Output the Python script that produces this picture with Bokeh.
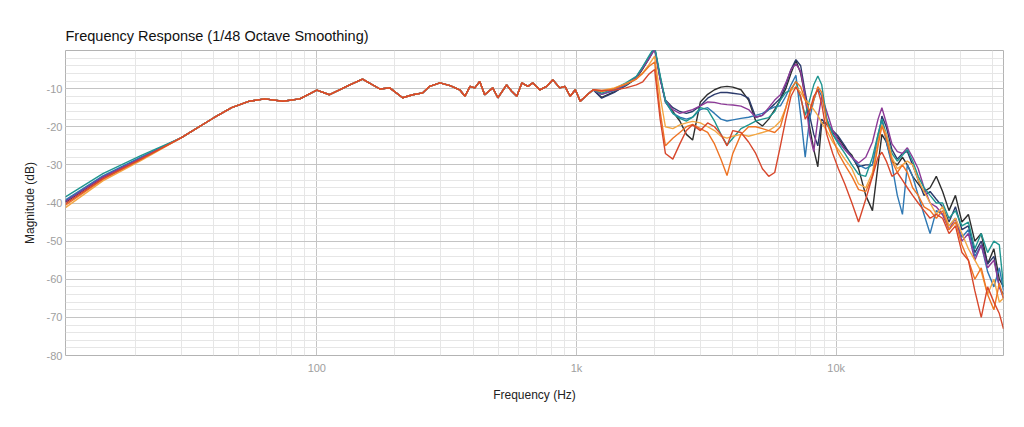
from bokeh.plotting import figure
from bokeh.models import Range1d, FixedTicker, CustomJSTickFormatter
from bokeh.embed import file_html
from bokeh.resources import INLINE

# ---------------------------------------------------------------
# data (dB vs Hz)
# ---------------------------------------------------------------
start_freqs = [10.77, 15, 21]

# below ~1.2 kHz all the measurements sit on top of each other
shared_freqs = [30, 40, 47, 55, 63, 74, 86, 100, 112, 134,
                150, 175, 191, 214, 234, 256, 272, 298, 326, 355,
                372, 389, 406, 424, 443, 476, 498, 538, 563, 589,
                616, 650, 679, 722, 768, 811, 862, 903, 945, 990,
                1034, 1100, 1160]
shared_db = [-22.9, -17.7, -15.0, -13.3, -12.7, -13.3, -12.7, -10.4, -11.6, -9.0,
             -7.5, -10.1, -9.8, -12.4, -11.6, -11.1, -9.4, -8.5, -9.2, -10.3,
             -12.0, -9.4, -9.8, -8.1, -11.6, -9.8, -12.4, -9.0, -10.7, -12.0,
             -8.5, -9.4, -8.5, -10.3, -9.4, -7.7, -9.8, -9.4, -12.0, -10.3,
             -13.3, -11.6, -10.3]

high_freqs = [1250, 1400, 1550, 1700, 1800,
              1900, 2000, 2100, 2200, 2350,
              2500, 2650, 2800, 3000, 3200,
              3400, 3600, 3800, 4000, 4300,
              4600, 4900, 5200, 5500, 5800,
              6100, 6400, 6700, 7000, 7300,
              7600, 7900, 8200, 8500, 8800,
              9200, 9700, 10200, 10800, 11500,
              12200, 13000, 13800, 14500, 15000,
              15600, 16400, 17200, 18000, 18800,
              19700, 20700, 21800, 23000, 24300,
              25700, 27200, 28800, 30500, 32300,
              34200, 36200, 38300, 40500, 42500,
              44100]

black_low = [-39.8, -33.3, -28.3]
black_high = [-12.3, -10.8, -9.2, -7.3, -4.8,
              -2.2, 0.5, -7.0, -13.5, -16.0,
              -18.5, -22.0, -23.5, -13.5, -11.5,
              -10.3, -9.6, -9.4, -9.6, -10.3,
              -13.0, -18.5, -19.8, -18.0, -15.5,
              -12.9, -10.0, -6.0, -2.6, -6.0,
              -12.0, -20.0, -26.0, -30.5, -19.0,
              -19.0, -21.5, -23.0, -25.5, -27.5,
              -31.0, -38.0, -42.0, -30.0, -22.0,
              -24.0, -29.0, -30.0, -28.0, -30.0,
              -33.0, -35.0, -37.0, -36.0, -33.0,
              -37.0, -42.0, -38.0, -45.0, -43.0,
              -50.0, -48.0, -56.0, -52.0, -60.0,
              -62.0]

navy_low = [-39.5, -33.1, -28.2]
navy_high = [-12.5, -11.0, -9.0, -7.0, -4.5,
             -2.0, 0.8, -7.5, -13.0, -15.0,
             -16.0, -16.5, -16.0, -14.5, -12.5,
             -11.5, -11.0, -11.0, -11.2, -11.5,
             -12.5, -17.5, -17.0, -15.5, -14.0,
             -12.5, -9.0, -5.0, -2.4, -4.0,
             -11.0, -17.0, -22.0, -25.0, -18.0,
             -19.5, -21.0, -22.5, -25.0, -28.0,
             -30.5, -30.0, -30.0, -24.0, -17.2,
             -20.0, -26.0, -28.5, -27.0, -26.5,
             -30.0, -34.0, -38.0, -37.0, -39.0,
             -41.0, -45.0, -41.0, -47.0, -46.0,
             -53.0, -50.0, -56.0, -54.0, -62.0,
             -64.0]

blue_low = [-39.2, -32.9, -28.0]
blue_high = [-11.5, -10.5, -9.0, -7.0, -4.3,
             -1.8, 0.5, -7.0, -13.5, -16.5,
             -17.5, -18.0, -17.5, -15.5, -15.0,
             -16.5, -18.0, -18.5, -18.2, -17.8,
             -17.5, -17.0, -16.5, -15.5, -14.8,
             -14.5, -12.0, -9.0, -6.5, -17.0,
             -28.0, -18.0, -13.0, -10.0, -12.0,
             -18.0, -22.0, -24.0, -26.0, -28.0,
             -30.0, -31.0, -30.0, -22.0, -18.0,
             -24.0, -30.0, -38.0, -43.0, -30.0,
             -33.0, -38.0, -43.0, -48.0, -42.0,
             -43.0, -46.0, -44.0, -49.0, -47.0,
             -54.0, -51.0, -58.0, -62.0, -57.0,
             -63.0]

purple_low = [-39.6, -33.2, -28.3]
purple_high = [-11.5, -10.3, -8.8, -7.0, -4.6,
               -2.2, 0.3, -7.5, -13.0, -15.5,
               -16.5, -16.0, -15.5, -14.5, -13.5,
               -13.6, -14.0, -14.2, -14.3, -14.6,
               -15.5, -17.5, -17.0, -15.0, -13.0,
               -11.6, -8.5, -5.0, -3.5, -5.5,
               -12.0, -22.0, -26.5, -18.0, -12.0,
               -16.0, -21.0, -23.5, -26.0, -28.0,
               -29.5, -28.0, -24.0, -18.0, -15.0,
               -19.0, -24.5, -26.5, -27.0, -25.5,
               -28.0, -31.0, -36.0, -40.0, -41.0,
               -43.0, -47.0, -44.0, -50.0, -48.0,
               -55.0, -51.0, -57.0, -55.0, -62.0,
               -65.0]

teal_low = [-38.4, -32.3, -27.6]
teal_high = [-11.2, -10.0, -8.5, -6.8, -4.2,
             -1.5, 1.0, -6.5, -13.0, -16.5,
             -17.8, -18.5, -17.5, -15.0, -15.5,
             -18.5, -22.0, -24.8, -23.0, -20.5,
             -19.5, -18.5, -18.0, -17.6, -16.0,
             -13.0, -11.0, -10.5, -8.0, -12.5,
             -17.0, -13.0, -9.0, -6.7, -9.0,
             -18.0, -22.0, -24.5, -27.0, -30.0,
             -32.5, -33.0, -28.0, -22.0, -18.0,
             -22.0, -27.0, -29.0, -27.5, -26.0,
             -29.0, -33.0, -36.0, -38.0, -40.0,
             -40.0, -44.0, -42.0, -46.0, -45.0,
             -52.0, -48.0, -53.0, -50.0, -51.0,
             -62.0]

lorange_low = [-41.2, -34.2, -28.9]
lorange_high = [-10.5, -9.8, -8.7, -7.5, -5.8,
                -3.8, -1.5, -12.0, -20.0, -20.5,
                -19.5, -19.0, -18.6, -19.0, -20.0,
                -21.0, -22.5, -23.0, -22.5, -22.0,
                -22.5, -22.0, -21.5, -21.0, -20.0,
                -18.5, -15.0, -10.5, -9.5, -11.0,
                -13.0, -14.0, -15.5, -17.0, -19.0,
                -21.0, -24.0, -26.0, -28.5, -31.0,
                -35.0, -36.0, -32.0, -24.0, -19.5,
                -22.0, -28.0, -31.0, -30.0, -29.0,
                -30.0, -34.0, -37.0, -40.0, -43.0,
                -41.0, -46.0, -44.0, -48.0, -52.0,
                -55.0, -58.0, -64.0, -60.0, -66.0,
                -65.0]

orange_low = [-40.6, -33.8, -28.6]
orange_high = [-10.8, -10.0, -8.8, -7.5, -6.0,
               -4.2, -3.0, -16.0, -25.0, -23.0,
               -21.5, -20.0, -19.4, -20.5, -21.5,
               -24.5, -28.5, -32.8, -27.0, -22.0,
               -20.0, -20.0, -20.5, -21.0, -21.5,
               -20.0, -15.0, -10.0, -8.2, -9.5,
               -13.0, -16.0, -13.0, -9.5, -11.0,
               -19.0, -23.0, -27.0, -30.0, -33.0,
               -36.5, -37.0, -33.0, -25.0, -19.8,
               -23.0, -29.0, -32.0, -30.0, -32.0,
               -36.0, -38.0, -41.0, -42.0, -44.0,
               -42.0, -47.0, -45.0, -51.0, -55.0,
               -60.0, -57.0, -64.0, -68.0, -61.0,
               -65.0]

red_low = [-40.2, -33.6, -28.5]
red_high = [-10.5, -10.4, -9.8, -9.0, -8.2,
            -6.2, -5.0, -18.0, -27.0, -28.5,
            -24.5, -21.0, -19.5, -21.0, -19.0,
            -20.0, -22.0, -25.0, -21.0, -21.5,
            -24.0, -27.0, -31.0, -33.0, -32.0,
            -25.0, -18.0, -12.0, -9.5, -12.0,
            -18.0, -16.0, -12.0, -10.3, -14.0,
            -22.0, -27.0, -31.0, -35.0, -40.0,
            -45.0, -39.0, -33.0, -28.0, -26.7,
            -29.0, -33.0, -32.0, -34.0, -36.0,
            -38.0, -40.0, -42.0, -44.0, -43.0,
            -44.0, -48.0, -46.0, -53.0, -55.0,
            -63.0, -70.0, -62.0, -66.0, -69.0,
            -73.0]

series = [
    (black_low, black_high, "#2e2e2e"),
    (navy_low, navy_high, "#2b3a6b"),
    (blue_low, blue_high, "#2f78b3"),
    (purple_low, purple_high, "#8c3a97"),
    (teal_low, teal_high, "#1f9690"),
    (lorange_low, lorange_high, "#f3a744"),
    (orange_low, orange_high, "#ee7424"),
    (red_low, red_high, "#d8472c"),
]

y_major = [-80, -70, -60, -50, -40, -30, -20, -10]
x_major = [100, 1000, 10000]

FONT = "Liberation Sans"

# ---------------------------------------------------------------
# figure
# ---------------------------------------------------------------
p = figure(width=1008, height=410, x_axis_type="log",
           x_range=Range1d(10.77, 44100), y_range=Range1d(-80, 0),
           output_backend="svg", toolbar_location=None,
           min_border_left=65, min_border_right=5,
           min_border_top=50, min_border_bottom=55)

p.title.text = "Frequency Response (1/48 Octave Smoothing)"
p.title.text_font = FONT
p.title.text_font_size = "14.5px"
p.title.text_font_style = "normal"
p.title.text_color = "#111111"
p.title.standoff = 13

all_freqs = start_freqs + shared_freqs + high_freqs
for low, high, color in series:
    p.line(all_freqs, low + shared_db + high, line_color=color, line_width=1.4)

# axes / grid
minor_x = [m * d for d in (10, 100, 1000) for m in range(2, 10)] + [20000, 30000, 40000]
p.xaxis.ticker = FixedTicker(ticks=x_major, minor_ticks=minor_x)
p.xaxis.formatter = CustomJSTickFormatter(
    code="return tick >= 1000 ? (tick / 1000) + 'k' : String(tick);")
p.yaxis.ticker = FixedTicker(ticks=y_major, minor_ticks=list(range(-80, 1, 2)))
p.yaxis.formatter = CustomJSTickFormatter(code="return String(tick);")

for ax in (p.xaxis, p.yaxis):
    ax.axis_line_color = None
    ax.major_tick_line_color = None
    ax.minor_tick_line_color = None
    ax.major_tick_in = 0
    ax.major_tick_out = 0
    ax.minor_tick_in = 0
    ax.minor_tick_out = 0
    ax.major_label_text_font = FONT
    ax.major_label_text_font_size = "11px"
    ax.major_label_text_color = "#9e9e9e"
    ax.axis_label_text_font = FONT
    ax.axis_label_text_font_size = "12px"
    ax.axis_label_text_font_style = "normal"
    ax.axis_label_text_color = "#222222"

p.xaxis.axis_label = "Frequency (Hz)"
p.yaxis.axis_label = "Magnitude (dB)"
p.xaxis.major_label_standoff = 6
p.xaxis.axis_label_standoff = 11
p.yaxis.major_label_standoff = 3
p.yaxis.axis_label_standoff = 7

p.grid.grid_line_color = "#c4c4c4"
p.grid.grid_line_width = 1
p.grid.minor_grid_line_color = "#e6e6e6"
p.grid.minor_grid_line_width = 1

p.outline_line_color = "#b3b3b3"
p.outline_line_width = 1
p.background_fill_color = "white"
p.border_fill_color = "white"

open("out.html", "w").write(file_html(p, INLINE))
